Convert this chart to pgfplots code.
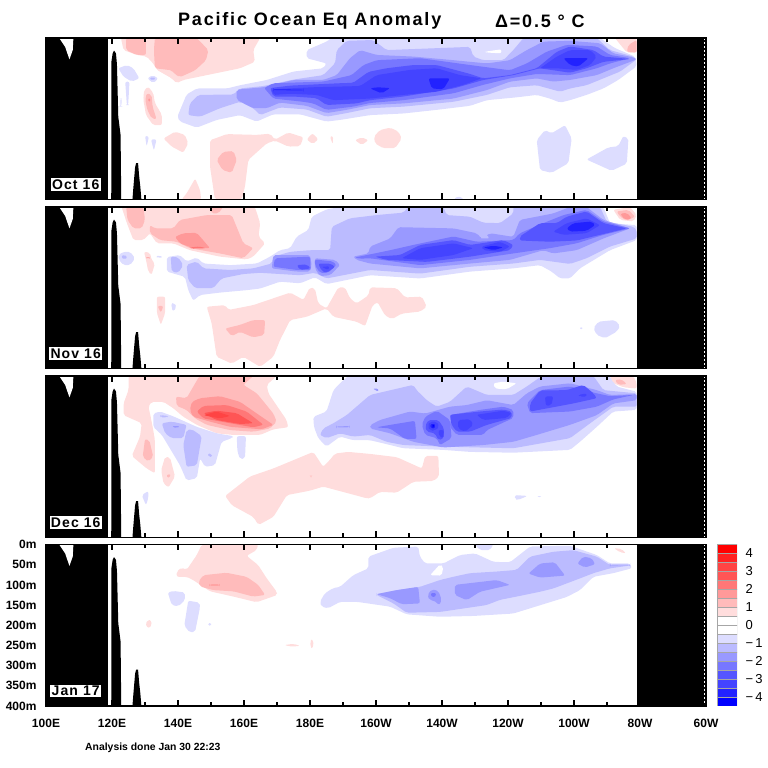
\documentclass[border=0pt]{standalone}
\usepackage{pgfplots}
\pgfplotsset{compat=1.18}
\usepackage{fontspec}
\setmainfont{Liberation Sans}
\newfontfamily\titlefont[LetterSpace=10]{Liberation Sans}
\newfontfamily\monthfont[LetterSpace=8]{Liberation Sans}
\definecolor{r0}{HTML}{FF0000}\definecolor{r1}{HTML}{FFDDDD}\definecolor{r2}{HTML}{FFBBBB}\definecolor{r3}{HTML}{FF9999}
\definecolor{r4}{HTML}{FF7777}\definecolor{r5}{HTML}{FF5555}\definecolor{r6}{HTML}{FF4444}\definecolor{r7}{HTML}{FF2222}
\definecolor{b1}{HTML}{DDDDFF}\definecolor{b2}{HTML}{BBBBFF}\definecolor{b3}{HTML}{9999FF}\definecolor{b4}{HTML}{7777FF}
\definecolor{b5}{HTML}{5555FF}\definecolor{b6}{HTML}{4444FF}\definecolor{b7}{HTML}{2222FF}\definecolor{b8}{HTML}{0000FF}
\newcommand\Z[2]{\addplot[fill=#1,draw=none,forget plot,rounded corners=2pt] coordinates {#2} --cycle;}
\newcommand\Y[2]{\addplot[fill=#1,draw=none,forget plot] coordinates {#2} --cycle;}
\newcommand\LAND{%
 \Y{black}{(100,0)(118.8,0)(118.8,400)(100,400)}
 \Y{white}{(104,0)(108.3,0)(108.1,30)(107.1,53)(105.8,22)}
 \Y{black}{(119.8,400)(119.8,60)(120.2,38)(120.6,31)(121.2,38)(121.5,65)(121.9,195)(122.6,240)(122.8,400)}
 \Y{black}{(126.2,400)(126.5,368)(127,320)(127.3,310)(127.9,310)(128.2,340)(128.6,370)(128.9,400)}
 \Y{black}{(279,0)(300,0)(300,400)(279,400)}
 \addplot[white,line width=1pt,dash pattern=on 2pt off 2pt,forget plot] coordinates {(299.4,0)(299.4,400)};
}
\newcommand\MONTH[1]{\node[fill=white,inner sep=1.2pt,font=\monthfont\bfseries\fontsize{14}{14}\selectfont,text=black] at (axis cs:109,363) {#1};}
\pgfplotsset{panel/.style={scale only axis,width=660pt,height=161.5pt,xmin=100,xmax=300,ymin=0,ymax=400,y dir=reverse,
 axis on top,axis line style={line width=1.6pt},tick align=inside,
 xtick={100,120,...,300},minor xtick={110,130,...,290},major tick length=6pt,minor tick length=4pt,
 every tick/.style={black,line width=1.4pt},every minor tick/.style={black,line width=1.4pt},
 ytick=\empty,xticklabels={}}}
\begin{document}
\begin{tikzpicture}
\useasboundingbox (0,0) rectangle (768pt,768pt);
\node[font=\titlefont\bfseries\fontsize{18}{18}\selectfont,anchor=west,inner sep=0pt] at (178pt,747pt) {Pacific Ocean Eq Anomaly};
\node[font=\titlefont\bfseries\fontsize{18}{18}\selectfont,anchor=west,inner sep=0pt] at (495pt,747pt) {Δ=0.5 ° C};
\node[font=\bfseries\fontsize{10.4}{10.4}\selectfont,anchor=west,inner sep=0pt] at (85pt,20pt) {Analysis done Jan 30 22:23};

% ---------- Oct 16
\begin{axis}[panel,at={(46pt,568.5pt)},anchor=south west]
\Z{r1}{(122.7,0)(164.9,0)(162.8,30)(163.3,59)(158.8,75)(148.7,92)(141.6,104)(139.6,112)(138.1,100)(133.6,79)(132.5,63)(130.5,46)(127.5,42)(123.5,30)}
\Z{r2}{(124.3,0)(130.3,0)(130.3,42)(127.5,42)(124.3,30)}
\Z{r2}{(133,0)(145.7,0)(149.2,30)(148.5,55)(145.2,80)(140.6,97)(139.1,90)(138.1,80)(133,75)(132.7,30)}
\Z{r1}{(131,121)(132.5,136)(133,161)(135.1,190)(135.1,216)(132.5,216)(130.3,191)(129.5,153)(129.7,129)}
\Z{r2}{(130.5,137)(132,141)(132.3,170)(133.5,201)(132,199)(130.7,178)(130.1,154)}
\Z{r3}{(130.8,150)(131.8,150)(131.3,160)}
\Z{b1}{(121.9,75)(124.5,67)(126.5,75)(128.3,100)(126,108)(123.5,96)}
\Z{b1}{(124,108)(125.3,108)(124.9,166)(124.5,166)}
\Z{b1}{(122.5,150)(123,150)(122.8,170)(122.6,170)}
\Z{b1}{(130.7,100)(132.3,92)(134,100)(132.5,112)}
\Z{b2}{(131.3,100)(132.3,96)(133.3,100)(132.3,106)}
\Z{b1}{(130,242)(131.2,244)(130.5,269)}
\Z{b1}{(131.8,251)(133.5,251)(132.7,279)}
\Z{b1}{(139.8,195)(142.6,140)(145.7,125)(154.8,125)(158.8,117)(166.9,104)(175,83)(184,75)(185,63)(179,50)(179,30)(185,9)(186.6,0)(267.9,0)(272.4,25)(278.5,46)(279,70)(273.4,104)(268.9,125)(263.8,141)(258.8,154)(255.8,160)(252.7,150)(248.7,141)(242.6,147)(233.6,154)(228.5,168)(218.4,178)(208.3,187)(198.2,191)(189.1,203)(185,207)(177,189)(168.9,189)(163.8,207)(158.8,191)(151.7,203)(145.7,222)(140.6,207)}
\Z{b2}{(143.1,191)(143.6,162)(146.2,141)(156.8,140)(158.8,125)(165.9,119)(175,103)(184,92)(187.6,63)(188.1,30)(191.1,7)(199.2,5)(203.2,30)(228.5,22)(229.5,46)(232.5,55)(238.6,55)(241.6,30)(244.7,0)(266.9,0)(270.9,30)(278,46)(279,53)(274,83)(268.9,100)(263.8,117)(258.8,125)(255.8,133)(248.7,117)(240.6,122)(233.6,141)(223.5,158)(208.3,170)(198.2,174)(191.1,186)(185,195)(179,177)(170.9,172)(164.9,191)(162.8,174)(158.8,158)(152.7,174)(146.7,195)}
\Z{b3}{(157.8,136)(157.8,128)(165.9,122)(175,104)(184,104)(188.1,92)(192.1,50)(195.2,30)(200.2,42)(211.3,46)(223.5,55)(233.6,63)(240.6,55)(245.7,30)(250.7,9)(258.8,7)(267.9,13)(271.9,38)(278,48)(279,53)(271.9,75)(266.9,92)(258.8,104)(253.7,108)(248.7,100)(240.6,108)(233.6,129)(223.5,150)(208.3,162)(198.2,166)(191.1,178)(185,186)(179,168)(170.9,160)(166.9,174)(162.8,174)(157.8,153)}
\Z{b4}{(166.1,124)(168.9,112)(184,108)(192.6,92)(196.2,67)(200.2,55)(213.4,50)(228.5,67)(240.6,80)(245.7,63)(251.7,34)(257.8,17)(266.9,21)(270.9,42)(277,50)(270.9,63)(266.9,75)(258.8,92)(248.7,89)(240.6,100)(232.5,116)(223.5,137)(208.3,154)(198.2,161)(193.1,170)(185,178)(181,162)(178,158)(168.9,150)}
\Z{b5}{(167.9,124)(174,118)(189.1,112)(193.1,111)(197.7,84)(203.2,75)(211.3,67)(218.4,67)(228.5,89)(232.5,100)(240.6,92)(248.7,75)(251.7,55)(254.8,34)(258.8,21)(265.9,30)(268.9,46)(277,52)(268.9,59)(263.8,75)(258.8,86)(249.7,75)(241.6,92)(232.5,104)(223.5,125)(208.3,145)(198.2,154)(194.1,162)(185,166)(182,149)(175,145)(168.9,145)}
\Z{b6}{(168.4,127)(181,122)(195.2,119)(200.2,92)(210.3,79)(218.4,75)(225.5,92)(232,100)(226.5,116)(218.4,133)(208.3,141)(198.2,150)(187.1,154)(182,141)(174,138)(168.9,141)}
\Z{b6}{(249.7,75)(254.8,46)(258.8,30)(264.9,30)(266.9,46)(264.9,67)(260.8,79)(254.8,75)}
\Z{b7}{(169,127)(178,128)(178,130)(169,129)}
\Z{b7}{(215.9,100)(222.4,100)(220.4,127)(216.9,125)}
\Z{b7}{(256.8,50)(264.4,50)(261.3,71)(258.8,67)}
\Z{b7}{(200.2,122)(204.3,124)(201.7,137)(198.2,125)}
\Z{white}{(233,34)(238,28)(238,38)(233.5,36)}
\Z{r1}{(272.4,0)(279,0)(279,36)(276,36)}
\Z{r2}{(276.5,17)(279,5)(279,36)(276,34)}
\Z{r1}{(135.6,249)(139.1,232)(142.1,240)(143.1,261)(141.6,284)(138.1,269)}
\Z{r1}{(149.7,253)(151.2,249)(154.8,238)(163.9,240)(167.9,237)(169.4,252)(173.4,234)(178,246)(177,268)(173.4,269)(169.4,254)(166.9,261)(161.3,302)(160.3,368)(159.3,400)(151.2,400)(149.7,319)}
\Z{r2}{(151.7,302)(153.7,282)(156.8,280)(157.8,302)(156.3,334)(153.5,327)}
\Z{r1}{(141.1,400)(142.6,385)(145.2,348)(146.7,377)(147,400)}
\Z{r1}{(179,251)(180.8,236)(182.5,251)(180.8,263)}
\Z{r1}{(186,244)(187,243)(186.9,263)}
\Z{r1}{(193.6,253)(195.7,246)(197.7,253)(195.7,265)}
\Z{r1}{(199.4,244)(201.2,228)(204.3,222)(206.8,232)(207.8,249)(205.8,273)(202.2,273)(199.7,261)}
\Z{b1}{(248.7,253)(251.2,228)(253.2,236)(257.3,216)(259.3,249)(258.3,310)(253.2,334)(249.7,327)}
\Z{b1}{(263.8,301)(270.4,271)(273.4,268)(274.9,243)(276.5,249)(276,311)(271.4,329)}
\Z{b1}{(223.5,400)(225,391)(226.7,400)}
\LAND
\MONTH{Oct 16}
\end{axis}

% ---------- Nov 16
\begin{axis}[panel,at={(46pt,399.5pt)},anchor=south west]
\Z{r1}{(122.9,0)(163.3,0)(164.9,40)(164.4,73)(166.4,90)(162.8,123)(160.8,130)(152.7,123)(143.6,107)(138.6,90)(133.6,90)(131.5,65)(129.5,82)(126.5,82)(124.5,40)}
\Z{r2}{(124.3,0)(129.5,0)(130,32)(129,53)(126.5,53)(124.7,32)}
\Z{r2}{(131.5,45)(133,53)(138.6,53)(140.6,32)(148.7,20)(156.3,20)(159.8,90)(162.8,102)(159.8,127)(152.7,115)(143.6,102)(139.6,86)(134.6,82)(131.5,65)}
\Z{r2}{(149.7,0)(153.7,0)(152.2,16)(150.2,16)}
\Z{r3}{(139.1,74)(141.6,65)(145.7,64)(149.7,102)(144.6,102)(140.6,90)}
\Z{r4}{(143.6,100)(146.5,98)(148.5,102)(144,103)}
\Z{r1}{(129.7,111)(131.5,113)(132,131)(133,140)(132,168)(131,160)(130.3,131)}
\Z{r3}{(130,125)(131.8,125)(131,129)}
\Z{b1}{(121.9,119)(123.5,111)(125.5,111)(127,127)(125.5,144)(123.5,144)(122.1,131)}
\Z{b2}{(122.7,123)(123.8,117)(124.7,125)(123.8,131)}
\Z{b1}{(133.2,123)(134.4,119)(135.4,125)(134,126)}
\Z{b1}{(136.6,124)(140.6,119)(142.6,135)(145.7,125)(147.7,140)(155.8,144)(163.9,140)(167.9,123)(170.9,107)(174,102)(176,73)(179.5,57)(180.5,24)(185,6)(189.1,0)(268.9,0)(270.9,40)(279,45)(279,82)(270.9,107)(261.8,152)(258.8,177)(255.8,177)(253.2,160)(249.7,144)(241.6,152)(228.5,160)(213.4,177)(198.2,169)(185,191)(181.5,174)(177,189)(170.9,185)(164.9,202)(160.8,206)(152.7,212)(146.7,218)(144.6,232)(143.1,206)(142.1,173)(136.6,160)}
\Z{b2}{(137.8,123)(140.1,125)(141.6,144)(140.1,163)(138.1,160)}
\Z{b2}{(142.6,143)(145.7,135)(147.7,152)(155.8,156)(162.8,152)(168.4,140)(168.9,123)(174,111)(180,107)(186.1,107)(186.6,49)(192.1,28)(200.2,20)(208.3,14)(209.8,0)(220.4,0)(221.4,20)(228.5,24)(232.5,39)(237.6,40)(241.6,16)(241.6,0)(267.9,0)(269.9,36)(278,49)(279,57)(279,78)(270.9,98)(263.8,127)(258.8,141)(249.7,131)(241.6,140)(228.5,148)(213.4,165)(198.2,156)(185,177)(181.5,163)(177,169)(170.9,166)(164.9,163)(159.8,166)(153.2,177)(150.7,201)(145.2,201)(143.1,181)}
\Z{b3}{(168.9,119)(180,119)(180.5,144)(180,160)(176,160)(168.4,152)}
\Z{b3}{(181.5,127)(187.6,131)(189.1,144)(186.1,169)(183,171)(181.5,152)}
\Z{b3}{(193.1,123)(197.7,115)(198.2,98)(204.3,78)(206.8,50)(223.5,53)(230.5,65)(232,78)(234.6,65)(241.6,74)(243.6,32)(253.7,16)(258.8,0)(263.8,0)(268.9,32)(277,53)(268.9,78)(260.8,107)(253.7,115)(250.7,107)(240.6,131)(228.5,140)(213.4,152)(198.2,140)(194.1,131)}
\Z{b4}{(169.4,127)(180,123)(180.2,156)(176,156)(168.9,148)}
\Z{b4}{(181.5,130)(187,135)(188,144)(185.5,163)(183,163)(181.5,144)}
\Z{b4}{(193.6,125)(200.2,114)(204.3,107)(211.3,94)(223.5,73)(230.5,86)(241.6,82)(243.6,65)(250.7,40)(256.8,20)(263.8,7)(268.9,36)(277,53)(268.9,69)(260.8,90)(252.7,102)(241.6,115)(228.5,131)(213.4,144)(198.2,127)(195,128)}
\Z{b5}{(176,144)(179,142)(180.2,152)(177,156)}
\Z{b5}{(182.5,140)(186.1,140)(187.6,148)(185,163)(183.5,158)}
\Z{b5}{(199.7,123)(207.3,119)(213.4,94)(223.5,82)(228.5,94)(238.6,82)(241.6,94)(240.6,107)(228.5,123)(215.4,136)(203.2,131)}
\Z{b5}{(243.6,73)(249.7,40)(254.8,40)(257.8,24)(263.8,11)(268.9,40)(276,53)(260.8,83)(252.7,86)(243.6,83)}
\Z{b6}{(207.8,127)(213.4,102)(223.5,90)(229.5,102)(223.5,119)(213.4,131)}
\Z{b6}{(232,98)(237.6,86)(240.6,98)(237.6,111)(232.5,107)}
\Z{b6}{(253.7,61)(257.8,40)(263.8,28)(267.9,45)(263.8,65)(256.8,69)}
\Z{b6}{(183.5,148)(186,147)(185.5,156)}
\Z{b7}{(257.8,53)(259.8,40)(265.4,36)(266.4,45)(263.8,59)(258.8,61)}
\Z{b7}{(232.5,100)(235.6,96)(238.6,100)(235.6,107)}
\Z{b2}{(231.5,78)(233,63)(234.4,78)}
\Z{r1}{(271.9,7)(277,0)(279,20)(278,36)(274,32)}
\Z{r2}{(272.9,11)(276.5,7)(278.5,24)(276,34)(274,24)}
\Z{r3}{(274,17)(276,14)(277.5,28)(275.5,32)}
\Z{r1}{(133.6,222)(136.1,222)(136.1,263)(134.8,292)(133.6,263)}
\Z{r2}{(133.8,245)(135.6,245)(134.8,262)}
\Z{b1}{(137.9,239)(138.9,237)(139.6,249)(138.4,259)}
\Z{r1}{(148.7,247)(154.3,243)(155.3,255)(162.8,243)(174,212)(178,230)(180,199)(181.5,202)(182.5,239)(185,251)(188.6,199)(190.6,199)(192.1,226)(194.1,239)(197.7,219)(198.2,199)(206.3,201)(208.8,224)(213.9,222)(215.4,247)(213.4,259)(207.8,264)(204.8,278)(202.7,268)(200.5,236)(199,243)(196.7,295)(194.1,284)(187.1,272)(185,251)(179,272)(174,280)(170.9,330)(168.9,371)(164.9,396)(159.8,371)(156.3,388)(151.7,371)(150.2,288)}
\Z{r2}{(154.3,301)(158.8,292)(162.8,280)(166.4,280)(166.1,317)(162.8,323)(158.8,309)(156.3,320)}
\Z{b1}{(265.9,300)(267.4,284)(272.4,280)(274,295)(272.9,309)(269.4,325)(266.9,317)}
\Z{b1}{(261.6,298)(262.8,298)(262.2,305)}
\LAND
\MONTH{Nov 16}
\end{axis}

% ---------- Dec 16
\begin{axis}[panel,at={(46pt,230.5pt)},anchor=south west]
\Z{r1}{(125,0)(169.9,0)(166.9,22)(167.4,43)(172.9,109)(173.4,127)(168.9,132)(164.9,146)(156.8,146)(151.7,142)(145.7,121)(141.6,101)(138.6,80)(135.6,64)(132,64)(131,76)(131.5,92)(132.5,134)(133,159)(133,241)(130.5,229)(126,198)(128.5,150)(129,117)(123.5,97)(123.5,68)(125,35)}
\Z{r2}{(139.4,51)(142.6,55)(146.5,0)(162.8,0)(159.8,22)(163.9,43)(168.9,93)(169.9,113)(167.9,130)(162.8,138)(155.8,134)(148.7,121)(145.2,105)(142.6,84)(139.6,74)}
\Z{r3}{(144.2,64)(146.7,55)(152.7,50)(158.8,64)(163.9,93)(168.9,121)(165.4,132)(155.8,126)(149.7,113)(144.6,101)(143.6,84)}
\Z{r4}{(145.7,88)(147.7,74)(154.8,72)(160.8,88)(165.9,121)(162.8,127)(155.8,117)(147.7,105)}
\Z{r5}{(147.7,92)(151.7,86)(157.8,92)(162.8,117)(158.8,119)(151.7,109)}
\Z{r6}{(147.7,97)(151.7,88)(155.8,99)(152.7,105)}
\Z{b1}{(132.5,93)(134.6,88)(138.6,100)(145.7,126)(151.7,142)(156.8,149)(156.3,154)(153.2,163)(151.2,221)(148.2,225)(146.7,204)(145.7,253)(142.6,259)(140.6,221)(135.1,146)(132.5,126)}
\Z{b1}{(157.8,149)(160.6,149)(160.3,204)(158.8,206)(158,187)}
\Z{b2}{(134.6,97)(137.1,99)(136.6,103)(134.6,102)}
\Z{b2}{(135.1,117)(138.1,113)(142.6,121)(141.6,154)(138.1,154)(136.1,142)}
\Z{b2}{(142.6,134)(144.2,132)(147.2,149)(145.7,221)(142.6,225)(141.6,171)}
\Z{b2}{(149,192)(150.2,192)(150.4,200)(149.2,201)}
\Z{b3}{(138.1,124)(140.6,124)(139.6,130)}
\Z{r2}{(130,156)(131.3,159)(132.5,200)(131,212)(129.3,200)}
\Z{r1}{(136.1,200)(137.6,202)(139.1,249)(137.1,276)(135.6,266)(134.9,233)}
\Z{r2}{(136.4,245)(137.9,243)(137.1,254)}
\Z{b1}{(129,295)(131,285)(131,303)(130.3,320)}
\Z{r1}{(154.3,297)(161.8,249)(168.9,229)(181,188)(184,225)(186,208)(187.6,192)(191.6,188)(198.2,193)(206.3,201)(213.9,229)(214.9,198)(218.9,198)(219.1,249)(217.4,260)(211.3,262)(206.3,289)(201.2,287)(198.2,303)(197.2,303)(193.6,295)(184,274)(180,284)(173,295)(168.9,349)(164.4,369)(162.8,349)(156.3,320)}
\Z{r2}{(180,247)(180.6,247)(180.3,250)}
\Z{b1}{(181,101)(185,88)(187.1,35)(189.6,14)(191.6,0)(270.9,0)(272.9,26)(279,39)(279,84)(271.9,88)(266.9,126)(261.8,163)(258.8,183)(241.6,190)(228.5,188)(220.4,183)(208.3,179)(204.3,171)(198.2,159)(193.1,159)(189.1,150)(185,175)(182.5,154)(181.2,126)}
\Z{white}{(235.6,18)(238.6,14)(242.6,18)(239.6,33)(236,31)}
\Z{b2}{(183,146)(184,130)(187.1,117)(191.1,97)(198.2,47)(211.3,22)(212.3,35)(215.4,60)(218.4,76)(222.4,64)(227.5,26)(233.6,47)(241.6,47)(245.7,26)(249.7,3)(265.9,0)(268.9,35)(279,43)(279,76)(271.9,76)(264.9,117)(258.8,154)(241.6,179)(220.4,175)(208.3,171)(203.2,163)(198.2,146)(193.1,150)(189.1,142)(185,154)}
\Z{b3}{(199,31)(200.7,31)(200.7,39)}
\Z{b3}{(198.2,122)(201.2,109)(210.3,88)(214.9,93)(222.4,76)(227.5,72)(233.6,60)(241.6,72)(245.7,43)(249.7,26)(258.8,18)(266.9,35)(270.9,47)(279,45)(279,60)(271.9,68)(266.9,97)(258.8,121)(248.7,146)(241.6,163)(232.5,171)(220.4,177)(211.3,163)(204.3,142)(198.2,130)}
\Z{b3}{(188,125)(192,124)(192,127)(188,127)}
\Z{b4}{(202.2,124)(211.8,111)(212.3,156)(208.8,156)(204.3,130)(200.2,127)}
\Z{b4}{(213.9,121)(214.9,101)(218.4,86)(222.4,109)(222.9,154)(219.4,171)(218.4,154)(214.9,146)}
\Z{b4}{(222.9,96)(231.5,84)(238.6,76)(241.6,84)(241.6,104)(233.6,134)(232.5,146)(224.5,146)(222.4,126)}
\Z{b4}{(245.7,68)(249.7,35)(258.8,26)(266.9,43)(270.9,50)(278,47)(271.9,58)(266.9,76)(258.8,88)(246.7,92)}
\Z{b5}{(214.9,124)(215.9,109)(218.9,109)(220.6,130)(220.6,154)(218.9,159)(217.9,142)(215.4,138)}
\Z{b5}{(222.4,96)(231.5,88)(238.6,83)(241.1,88)(241.1,104)(233.6,121)(228.5,138)(224.5,138)(222.9,121)}
\Z{b5}{(246.7,68)(249.7,36)(257.8,35)(262.8,22)(265.9,43)(266.9,55)(259.8,68)(246.7,88)}
\Z{b6}{(230.5,96)(238.6,86)(241.1,92)(239.6,104)(232.5,109)}
\Z{b6}{(224.9,109)(228.5,107)(229.5,121)(227,138)(224.9,130)}
\Z{b6}{(251.2,51)(253.7,50)(253.2,72)(251.5,74)}
\Z{b6}{(261.3,47)(263.8,43)(263.8,51)(261.8,51)}
\Z{b6}{(215.6,124)(216.4,113)(218.4,113)(219.2,126)(217.9,135)(216.4,135)}
\Z{b6}{(218.9,134)(220.6,134)(220.2,154)(219.2,150)}
\Z{b7}{(216.2,124)(217.2,116)(218.2,122)(217.4,132)}
\Z{b8}{(216.8,124)(217.4,119)(217.9,124)(217.3,129)}
\Z{r1}{(270.9,0)(278,0)(279,18)(279,31)(275,28)(272,18)}
\Z{r2}{(272.4,10)(274.4,8)(276,20)(273.4,22)}
\Z{b1}{(242.1,295)(245.9,297)(243.1,307)(242.1,306)}
\Z{b1}{(249,298)(250,298)(249.5,300)}
\LAND
\MONTH{Dec 16}
\end{axis}

% ---------- Jan 17
\begin{axis}[panel,at={(46pt,62pt)},anchor=south west,
 xticklabels={100E,120E,140E,160E,180E,160W,140W,120W,100W,80W,60W},
 xticklabel style={font=\bfseries\fontsize{12}{12}\selectfont,yshift=-10pt},
 ytick={0,50,...,400},yticklabels={0m,50m,100m,150m,200m,250m,300m,350m,400m},
 yticklabel style={font=\bfseries\fontsize{12}{12}\selectfont,xshift=-6pt},
 every tick/.style={black,line width=1.4pt},ytick style={draw=none}]
\Z{r1}{(147.2,0)(164.3,0)(163.8,14)(160.8,28)(164.3,51)(166.9,84)(169.9,117)(170.1,125)(163.8,143)(156.8,129)(149.7,116)(144.6,88)(142.6,80)(139.6,80)(139.6,67)(141.1,57)(142.6,63)(145.7,26)}
\Z{r2}{(146.2,92)(147.7,76)(154.7,70)(160.8,80)(164.3,100)(166.4,125)(162.8,129)(156.8,116)(150.7,113)(146.7,104)}
\Z{r3}{(149.5,99)(152.7,99)(152.7,102)(149.5,102)}
\Z{b1}{(136.9,119)(138.6,115)(142.1,119)(142.1,138)(140.1,153)(138.1,150)}
\Z{b1}{(143.1,139)(146.5,144)(146.7,154)(145.2,216)(143.6,218)(141.9,201)}
\Z{b1}{(149.2,195)(150,195)(150,201)(149.2,201)}
\Z{r1}{(130,195)(131.5,185)(132.2,199)(131,208)}
\Z{r1}{(172.2,249)(175,246)(177,251)(174.4,253)}
\Z{r1}{(180,241)(180.6,233)(181.2,249)(180.4,259)}
\Z{b1}{(183,142)(184.5,121)(187,108)(189.1,105)(193.1,76)(197.7,59)(197.7,30)(205.3,8)(212.8,5)(213.3,30)(214.9,47)(220.4,47)(225.5,26)(230,22)(235.6,43)(240.6,44)(246.7,5)(258.8,3)(266.9,26)(270.9,47)(277,47)(277.5,59)(271.9,71)(265.9,80)(261.8,113)(257.8,130)(241.6,171)(229.5,177)(219.4,179)(209.3,173)(204.3,154)(194.2,142)(189.1,142)(185.5,158)(183.5,154)}
\Z{white}{(216.4,76)(219.4,49)(220.4,55)(219.9,77)}
\Z{b1}{(230,0)(231.5,14)(234.5,14)(235.6,0)}
\Z{r1}{(272.1,9)(274.4,11)(275.8,22)(273.9,19)}
\Z{b2}{(200.2,123)(206.3,113)(213.3,105)(219.4,88)(223.4,80)(228.5,71)(236.6,67)(242.6,63)(246.7,30)(253.7,18)(259.8,14)(266.9,30)(270.9,51)(277,52)(270.9,59)(265.9,71)(261.8,84)(253.7,109)(249.7,117)(242.6,129)(237.6,137)(233.5,150)(219.4,167)(209.3,169)(205.3,146)(200.2,125)}
\Z{b3}{(200.2,123)(206.3,113)(212.8,105)(213.3,146)(207.8,148)(204.3,133)}
\Z{b3}{(215.6,125)(216.9,111)(218.9,115)(219.9,137)(219.2,150)(217.4,138)(216.2,138)}
\Z{b4}{(216.4,124)(217.4,117)(218.4,124)(217.4,132)}
\Z{b3}{(223.9,100)(236.6,88)(240.6,100)(231.5,117)(227.5,138)(223.9,125)}
\Z{b3}{(246.2,72)(249.7,47)(254.2,44)(257.3,77)(249.7,82)}
\Z{b3}{(261,47)(262.8,30)(265.4,34)(266.4,49)(263.3,57)}
\Z{b3}{(270.9,50)(277,50)(277,52)(270.9,52)}
\LAND
\MONTH{Jan 17}
\end{axis}

% ---------- colour key
\begin{axis}[scale only axis,at={(717pt,62pt)},anchor=south west,width=20pt,height=162pt,
 xmin=0,xmax=1,ymin=-4.5,ymax=4.5,xtick=\empty,axis line style={draw=none},
 ytick={-4,-3,-2,-1,0,1,2,3,4},yticklabels={−\,4,−\,3,−\,2,−\,1,0,1,2,3,4},
 yticklabel pos=right,ytick style={draw=none},
 yticklabel style={anchor=west,font=\fontsize{13}{13}\selectfont,xshift=5pt}]
\addplot[fill=b8,draw=gray!70,line width=0.7pt] coordinates {(0,-4.5)(1,-4.5)(1,-4)(0,-4)} --cycle;
\addplot[fill=b7,draw=gray!70,line width=0.7pt] coordinates {(0,-4)(1,-4)(1,-3.5)(0,-3.5)} --cycle;
\addplot[fill=b6,draw=gray!70,line width=0.7pt] coordinates {(0,-3.5)(1,-3.5)(1,-3)(0,-3)} --cycle;
\addplot[fill=b5,draw=gray!70,line width=0.7pt] coordinates {(0,-3)(1,-3)(1,-2.5)(0,-2.5)} --cycle;
\addplot[fill=b4,draw=gray!70,line width=0.7pt] coordinates {(0,-2.5)(1,-2.5)(1,-2)(0,-2)} --cycle;
\addplot[fill=b3,draw=gray!70,line width=0.7pt] coordinates {(0,-2)(1,-2)(1,-1.5)(0,-1.5)} --cycle;
\addplot[fill=b2,draw=gray!70,line width=0.7pt] coordinates {(0,-1.5)(1,-1.5)(1,-1)(0,-1)} --cycle;
\addplot[fill=b1,draw=gray!70,line width=0.7pt] coordinates {(0,-1)(1,-1)(1,-0.5)(0,-0.5)} --cycle;
\addplot[fill=white,draw=gray!70,line width=0.7pt] coordinates {(0,-0.5)(1,-0.5)(1,0)(0,0)} --cycle;
\addplot[fill=white,draw=gray!70,line width=0.7pt] coordinates {(0,0)(1,0)(1,0.5)(0,0.5)} --cycle;
\addplot[fill=r1,draw=gray!70,line width=0.7pt] coordinates {(0,0.5)(1,0.5)(1,1)(0,1)} --cycle;
\addplot[fill=r2,draw=gray!70,line width=0.7pt] coordinates {(0,1)(1,1)(1,1.5)(0,1.5)} --cycle;
\addplot[fill=r3,draw=gray!70,line width=0.7pt] coordinates {(0,1.5)(1,1.5)(1,2)(0,2)} --cycle;
\addplot[fill=r4,draw=gray!70,line width=0.7pt] coordinates {(0,2)(1,2)(1,2.5)(0,2.5)} --cycle;
\addplot[fill=r5,draw=gray!70,line width=0.7pt] coordinates {(0,2.5)(1,2.5)(1,3)(0,3)} --cycle;
\addplot[fill=r6,draw=gray!70,line width=0.7pt] coordinates {(0,3)(1,3)(1,3.5)(0,3.5)} --cycle;
\addplot[fill=r7,draw=gray!70,line width=0.7pt] coordinates {(0,3.5)(1,3.5)(1,4)(0,4)} --cycle;
\addplot[fill=r0,draw=gray!70,line width=0.7pt] coordinates {(0,4)(1,4)(1,4.5)(0,4.5)} --cycle;
\end{axis}
\end{tikzpicture}
\end{document}
